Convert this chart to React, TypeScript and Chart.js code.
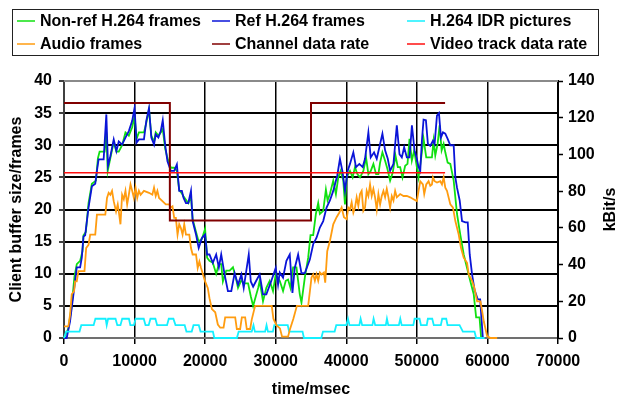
import React, { useEffect, useRef } from "react";
import { Chart, registerables } from "chart.js";

Chart.register(...registerables);

const FONT = "'Liberation Sans', Arial, Helvetica, sans-serif";

// ---- axis settings ----
const X_MAX = 70000;
const X_STEP = 10000;
const Y_MAX = 40;
const Y_STEP = 5;
const Y1_MAX = 140;
const Y1_STEP = 20;

// ---- series: [time/msec, value] ----
const nonRefFrames: [number, number][] = [
  [0,0],[620,1.5],[1095,5],[1475,9.5],[1809,11.5],[2285,12],[2618,13.5],[2761,16],[3094,16.5],[3475,21],[3950,24],[4522,24.5],[4808,28],[5045,29],[5760,29],[6000,32],[6190,26],[6570,28],[7045,30.5],[7426,29],[7760,29],[8235,30],[8711,32],[9187,31.5],[9663,32.8],[9996,34.5],[10280,31],[10615,32],[11330,32],[11662,33.5],[12043,35.5],[12376,31.5],[12757,30.5],[12995,32],[13376,31.5],[13710,32],[13994,32.5],[14328,29.5],[14660,28],[15137,26.5],[15613,26.5],[15994,26],[16327,23],[16700,22.5],[16946,22],[17279,21.5],[17612,21],[17993,22],[18230,18.5],[18707,16.5],[19088,15],[19564,15.5],[19992,17],[20278,12.5],[20611,12],[21087,11.7],[21563,10],[21944,11.5],[22277,11.5],[22515,8.8],[22990,10.5],[23467,10.5],[23943,11],[24419,9],[24657,7.8],[25133,9],[25466,8.5],[26085,8.5],[26466,6.5],[26800,5],[27180,6.5],[27514,7.8],[27725,8.9],[28200,5.7],[28673,7.8],[29147,8.9],[29620,7.3],[30000,9.9],[30570,8.9],[31040,7.3],[31420,8.9],[31750,9.1],[32085,7.8],[32465,11],[32940,11],[33412,6.8],[33650,5.5],[34124,9.4],[34600,12.5],[34930,16],[35310,16],[35690,19.3],[36020,21],[36257,19.3],[36730,19.8],[37110,23.1],[37350,21.4],[37680,22.4],[38153,24.5],[38530,22.4],[38864,25],[39196,26],[39575,24.5],[39812,20.8],[40050,25],[40523,26],[40900,25],[41234,26.6],[41566,25.5],[41945,25],[42420,26],[42800,28.1],[43130,25.5],[43462,26],[43840,27.1],[44220,25.5],[44550,25.5],[44790,27.3],[45120,28.9],[45500,27.6],[45832,26.3],[46210,24.5],[46590,25.8],[46970,28.4],[47300,26.6],[47633,26.6],[47965,25],[48344,26.8],[48676,27.1],[48960,31],[49290,27.6],[49624,29.2],[50000,26.6],[50240,25],[50620,28.1],[50950,31],[51330,28.1],[52136,28.1],[52373,30.7],[52610,28.4],[52942,30.2],[53226,33.1],[53510,29.2],[53795,30.2],[54030,28.9],[54364,27.3],[54743,27.1],[55217,24.5],[55690,19.3],[56165,16],[56640,13],[57113,10.9],[57587,8.8],[58060,6.8],[58400,3.2],[58880,3.2],[59110,0],
];

const refFrames: [number, number][] = [
  [0,0],[380,0],[857,2.6],[1095,4.7],[1571,8.8],[1809,11],[2285,11],[2523,12.5],[2761,15.8],[3000,16],[3475,20.3],[3950,23.6],[4427,24],[4665,26],[4900,27.8],[5617,27.8],[6000,34.8],[6236,26.8],[6570,28.3],[7045,30.9],[7426,29.1],[7760,30.6],[8235,30.1],[8711,31.2],[9187,32.2],[9663,33.8],[9996,35.8],[10280,30.4],[10615,30.9],[11330,30.9],[11662,33.8],[12043,35.8],[12376,31.2],[12757,30.1],[12995,31.7],[13376,31.2],[13710,32.2],[13994,33.9],[14328,30.1],[14660,27.5],[15137,26],[15613,26],[15994,27],[16327,22.9],[16700,22.9],[16946,21.8],[17279,21],[17612,21],[17993,22.9],[18230,18.2],[18707,16.1],[19088,14],[19564,15.6],[19992,16.1],[20278,13],[20611,13],[21087,11.7],[21563,13],[21944,11],[22277,13],[22753,9.9],[23229,7.3],[23705,7.3],[24181,10.1],[24657,8.3],[25133,9.9],[25466,7.8],[26180,13],[26466,8.8],[26800,8],[27180,8.8],[27725,9.9],[28200,6.8],[28673,6.8],[29384,8.9],[30000,10.9],[30330,8.3],[30570,10.2],[31040,9.4],[31517,12],[31990,13],[32370,7],[32700,10.9],[33176,13],[33650,10.1],[34124,10.1],[34835,12.2],[35310,14.6],[35783,15.6],[36257,17.2],[36730,18.2],[37205,20.3],[37680,21.4],[38153,22.9],[38722,25.3],[39100,27.9],[39480,25.8],[39812,22.9],[40190,26],[40523,27.1],[41000,28.9],[41376,26.6],[41850,27.1],[42324,26.6],[42656,27.9],[43130,32],[43462,28.1],[43936,28.9],[44315,27.9],[44790,30.2],[45120,31.8],[45500,29.2],[45880,27.9],[46210,26],[46685,27.1],[47160,33.1],[47540,28.6],[47870,28.1],[48200,29.7],[48580,28.1],[48960,28.1],[49300,33.1],[49670,29.2],[50000,27.9],[50240,26.6],[50480,26],[50714,30.7],[50950,34],[51283,33.9],[51567,30.2],[51900,29.9],[52280,30.7],[52515,30.2],[52847,34.6],[53130,35],[53415,31.2],[53700,32],[54030,31.8],[54364,31],[54743,30],[55217,30],[55454,25],[55690,23.4],[56070,21.4],[56400,18.2],[56876,18],[57208,18],[57490,13],[57824,9.9],[58170,7.5],[58640,6],[58970,6],[59350,0],
];

const idrPictures: [number, number][] = [
  [0,0],[300,1],[2200,1],[2450,2],[4200,2],[4450,3],[5900,3],[6050,2],[6250,3],[7300,3],[7550,2],[8000,2],[8250,3],[9200,3],[9400,2],[9900,2],[10150,3],[11300,3],[11550,2],[12000,2],[12250,3],[12950,3],[13200,2],[14600,2],[14850,3],[15500,3],[15800,2],[17100,2],[17350,1],[18100,1],[18350,2],[19100,2],[19350,1],[21100,1],[21300,0],[24500,0],[24750,1],[26600,1],[26850,2],[27050,1],[28500,1],[28700,2],[28900,1],[29600,1],[29800,2],[31700,2],[31900,1],[33800,1],[34000,0],[36460,0],[36700,1],[38350,1],[38580,2],[40000,2],[40240,3],[40450,2],[41850,2],[42030,3],[42250,2],[43700,2],[43870,3],[44100,2],[45600,2],[45760,3],[45950,2],[47450,2],[47650,3],[47850,2],[49500,2],[49680,3],[50380,3],[50580,2],[51400,2],[51560,3],[52180,3],[52400,2],[53400,2],[53590,3],[54160,3],[54350,2],[56050,2],[56520,1],[58170,1],[58400,0],[59600,0],
];

const audioFrames: [number, number][] = [
  [0,1.8],[620,1.8],[857,3.6],[1095,6.8],[1428,7.3],[1571,8.8],[1809,8.8],[2047,10.4],[2904,10.4],[3142,14],[3475,14.5],[3713,16.1],[4427,16.1],[4665,19.2],[5855,19.2],[6093,21.8],[6331,22.6],[6570,22.3],[6807,22.9],[7045,21.3],[7378,19.7],[7616,20.8],[7760,19.7],[8000,17.7],[8235,22.3],[8473,21.6],[8711,22.9],[8950,20.8],[9187,22.3],[9425,23.9],[9663,22.9],[9900,21.8],[10140,23.4],[10377,21.8],[10615,22.9],[10853,22.3],[11330,22.9],[12043,22.6],[12520,22.3],[12757,23.4],[12995,22.1],[13233,22.9],[13470,21.8],[13947,21.3],[14423,20.8],[14900,20.8],[15137,20.3],[15375,20.5],[15613,18.7],[15850,18.7],[16090,16.1],[16327,17.7],[16565,17.1],[16800,16.1],[17040,17.7],[17280,16.1],[17755,16.1],[17993,14],[18230,13],[18707,13],[18945,10.9],[19183,11.9],[19420,10.9],[19992,8.8],[20373,7.8],[20611,6.2],[20960,4.5],[21430,4],[21800,2.1],[22140,1.6],[22610,1.6],[22840,3.2],[24260,3.2],[24490,1.4],[24960,1.4],[25200,3.2],[25670,3.2],[25900,1.4],[26380,1.4],[26610,2.9],[27080,5],[29440,5],[29670,3],[30100,2],[30600,1.5],[30900,0.2],[31750,0.2],[32000,1.3],[32500,3],[33000,5],[34600,5],[35070,9.4],[35310,9.9],[35550,8.9],[35780,9.9],[36020,8.9],[36257,10.2],[36500,9.9],[36830,10.2],[37015,8.6],[37300,13.5],[37680,15.1],[38153,17.7],[38627,18.8],[39000,19.5],[39340,20.3],[39670,18.8],[40050,18.5],[40286,20.3],[40523,20],[40760,21.1],[41000,19.5],[41234,20.3],[41470,21.9],[41708,20.6],[41945,22.4],[42180,22.9],[42420,19.8],[42656,20.3],[42893,22.9],[43130,22.1],[43367,23.9],[43604,22.1],[43840,23.2],[44078,21.9],[44315,20],[44550,22.4],[44790,20.8],[45025,22.1],[45263,22.9],[45500,21.9],[45737,23.2],[45974,21.9],[46210,20.3],[46448,22.1],[46685,21.4],[46922,22.9],[47160,21.9],[47633,22.4],[48107,22.1],[48580,22.1],[49055,21.9],[49530,21.6],[50000,21.3],[50240,22.9],[50480,24.4],[50855,23.9],[51045,22.4],[51330,23.9],[51660,24.4],[51900,23.7],[52136,23.9],[52280,25],[52515,24.4],[52850,24.2],[53320,24.4],[53560,23.9],[53795,25],[54030,23.4],[54270,22.9],[54743,20.8],[55120,20.3],[55454,18.2],[55930,16.1],[56260,14],[56640,12.5],[57113,11.7],[57350,9.9],[57824,8.9],[58155,7.8],[58535,5.7],[59010,5.7],[59245,4.2],[59480,2.6],[59955,0.3],[60430,0],[61380,0],
];

// kBit/s (right axis)
const channelDataRate: [number, number][] = [
  [0,128],[15000,128],[15000,64],[35000,64],[35000,128],[54000,128],
];
const videoTrackDataRate: [number, number][] = [
  [0,90],[54000,90],
];

const GREEN = "#10e010";
const BLUE = "#0a14d8";
const CYAN = "#14f0ff";
const ORANGE = "#ff9c10";
const DARKRED = "#800000";
const RED = "#ff1010";

const legendItems = [
  { label: "Non-ref H.264 frames", color: GREEN },
  { label: "Ref H.264 frames", color: BLUE },
  { label: "H.264 IDR pictures", color: CYAN },
  { label: "Audio frames", color: ORANGE },
  { label: "Channel data rate", color: DARKRED },
  { label: "Video track data rate", color: RED },
];

const toXY = (a: [number, number][]) => a.map(([x, y]) => ({ x, y }));

const decorPlugin = {
  id: "decor",
  afterDraw(chart: any) {
    const ctx = chart.ctx as CanvasRenderingContext2D;
    const area = chart.chartArea;
    ctx.save();
    // top border of the plot area
    ctx.strokeStyle = "#8a8a8a";
    ctx.lineWidth = 2;
    ctx.beginPath();
    ctx.moveTo(area.left, area.top);
    ctx.lineTo(area.right, area.top);
    ctx.stroke();

    // legend box
    ctx.strokeStyle = "#222";
    ctx.lineWidth = 1;
    ctx.strokeRect(12.5, 9.5, 586, 46);
    const colX = [17, 212, 407];
    const textX = [40, 235, 430];
    const rowY = [21.5, 44.5];
    ctx.font = `bold 16px ${FONT}`;
    ctx.textBaseline = "middle";
    ctx.textAlign = "left";
    legendItems.forEach((it, i) => {
      const c = i % 3;
      const r = Math.floor(i / 3);
      ctx.strokeStyle = it.color;
      ctx.lineWidth = 1.5;
      ctx.beginPath();
      ctx.moveTo(colX[c], rowY[r] - 0.5);
      ctx.lineTo(colX[c] + 18, rowY[r] - 0.5);
      ctx.stroke();
      ctx.fillStyle = "#000";
      ctx.fillText(it.label, textX[c], rowY[r]);
    });

    // right axis title (reads bottom to top)
    ctx.save();
    ctx.translate(611, (area.top + area.bottom) / 2);
    ctx.rotate(-Math.PI / 2);
    ctx.textAlign = "center";
    ctx.textBaseline = "middle";
    ctx.fillStyle = "#000";
    ctx.fillText("kBit/s", 0, 0);
    ctx.restore();
    ctx.restore();
  },
};

export default function App() {
  const ref = useRef<HTMLCanvasElement | null>(null);

  useEffect(() => {
    if (!ref.current) return;
    Chart.defaults.font.family = FONT;
    const tickFont = { family: FONT, size: 16, weight: "bold" as const };
    const base = {
      pointRadius: 0,
      pointHoverRadius: 0,
      tension: 0,
      fill: false,
      clip: false as any,
    };
    const chart = new Chart(ref.current, {
      type: "line",
      data: {
        datasets: [
          { ...base, label: "Non-ref H.264 frames", data: toXY(nonRefFrames), borderColor: GREEN, borderWidth: 1.8, yAxisID: "y", order: 6 },
          { ...base, label: "Ref H.264 frames", data: toXY(refFrames), borderColor: BLUE, borderWidth: 1.8, yAxisID: "y", order: 5 },
          { ...base, label: "H.264 IDR pictures", data: toXY(idrPictures), borderColor: CYAN, borderWidth: 1.8, yAxisID: "y", order: 4 },
          { ...base, label: "Audio frames", data: toXY(audioFrames), borderColor: ORANGE, borderWidth: 1.8, yAxisID: "y", order: 3 },
          { ...base, label: "Channel data rate", data: toXY(channelDataRate), borderColor: DARKRED, borderWidth: 2, yAxisID: "y1", order: 2 },
          { ...base, label: "Video track data rate", data: toXY(videoTrackDataRate), borderColor: RED, borderWidth: 1.5, yAxisID: "y1", order: 1 },
        ] as any,
      },
      options: {
        animation: false,
        responsive: false,
        events: [],
        layout: { padding: { top: 81, left: 0, right: 0, bottom: 0 } },
        plugins: { legend: { display: false }, tooltip: { enabled: false } },
        scales: {
          x: {
            type: "linear",
            min: 0,
            max: X_MAX,
            afterFit: (s: any) => { s.height = 61; },
            ticks: {
              stepSize: X_STEP,
              color: "#000",
              font: tickFont,
              padding: 8,
              maxRotation: 0,
              autoSkip: false,
              callback: (v: any) => String(v),
            },
            grid: {
              color: (c: any) => (c.tick && c.tick.value === 0 ? "rgba(0,0,0,0)" : "#000"),
              lineWidth: 1.5,
              tickColor: "#000",
              tickLength: 6,
              tickWidth: 1.5,
            },
            border: { display: true, color: "#707070", width: 2 },
            title: {
              display: true,
              text: "time/msec",
              color: "#000",
              font: { family: FONT, size: 16, weight: "bold" },
              padding: { top: 0, bottom: 0 },
            },
          },
          y: {
            type: "linear",
            position: "left",
            min: 0,
            max: Y_MAX,
            afterFit: (s: any) => { s.width = 64; },
            ticks: {
              stepSize: Y_STEP,
              color: "#000",
              font: tickFont,
              padding: 7,
              callback: (v: any) => String(v),
            },
            grid: {
              color: (c: any) => (c.tick && (c.tick.value === 0 || c.tick.value === Y_MAX) ? "rgba(0,0,0,0)" : "#000"),
              lineWidth: 2,
              tickColor: "#000",
              tickLength: 5,
              tickWidth: 1.5,
            },
            border: { display: true, color: "#404040", width: 2 },
            title: {
              display: true,
              text: "Client buffer size/frames",
              color: "#000",
              font: { family: FONT, size: 16, weight: "bold" },
              padding: { top: 7, bottom: 0 },
            },
          },
          y1: {
            type: "linear",
            position: "right",
            min: 0,
            max: Y1_MAX,
            afterFit: (s: any) => { s.width = 61; },
            ticks: {
              stepSize: Y1_STEP,
              color: "#000",
              font: tickFont,
              padding: 5,
              callback: (v: any) => String(v),
            },
            grid: {
              drawOnChartArea: false,
              tickColor: "#000",
              tickLength: 5,
              tickWidth: 1.5,
            },
            border: { display: true, color: "#000", width: 2 },
            title: { display: false },
          },
        },
      } as any,
      plugins: [decorPlugin],
    });
    return () => chart.destroy();
  }, []);

  return (
    <div style={{ position: "fixed", left: 0, top: 0, width: 619, height: 399, background: "#fff" }}>
      <canvas ref={ref} width={619} height={399} style={{ display: "block", width: 619, height: 399 }} />
    </div>
  );
}
